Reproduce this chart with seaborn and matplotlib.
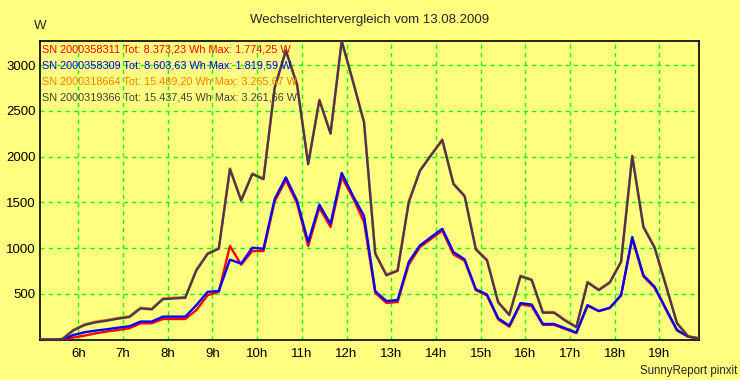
import matplotlib
matplotlib.use("Agg")
import matplotlib.pyplot as plt
import seaborn as sns
import pandas as pd
import numpy as np

# ---------------- data ----------------
times = pd.date_range("2009-08-13 05:08:30", periods=60, freq="15min")

sn_8311 = [0, 0, 0, 22, 43, 68, 87, 104, 123, 177, 177, 224, 224, 224, 322, 485, 521,
           1022, 818, 967, 967, 1510, 1742, 1490, 1022, 1440, 1230, 1774, 1550, 1283,
           510, 400, 410, 820, 1010, 1100, 1190, 930, 860, 540, 480, 220, 140, 385, 365,
           160, 160, 115, 70, 370, 310, 345, 480, 1100, 690, 565, 330, 100, 30, 10]
sn_8309 = [0, 0, 0, 50, 79, 98, 112, 130, 145, 196, 196, 250, 250, 250, 376, 521, 530,
           873, 829, 1003, 992, 1536, 1772, 1518, 1065, 1474, 1264, 1820, 1572, 1350,
           528, 420, 431, 848, 1028, 1120, 1210, 956, 876, 550, 492, 232, 152, 398, 382,
           170, 170, 123, 76, 376, 311, 348, 485, 1120, 702, 576, 340, 104, 33, 12]
sn_8664 = [0, 0, 5, 108, 166, 196, 214, 236, 254, 348, 337, 449, 457, 464, 765, 943, 1000,
           1870, 1526, 1816, 1761, 2758, 3163, 2794, 1924, 2623, 2258, 3266, 2830, 2378,
           946, 710, 758, 1508, 1851, 2022, 2188, 1707, 1573, 993, 873, 413, 275, 699, 658,
           301, 301, 214, 142, 631, 547, 631, 856, 2011, 1236, 1011, 601, 185, 38, 12]
sn_9366 = [0, 0, 5, 100, 159, 188, 206, 228, 246, 340, 329, 441, 449, 456, 757, 935, 992,
           1862, 1518, 1808, 1753, 2750, 3155, 2786, 1916, 2615, 2250, 3262, 2822, 2370,
           938, 702, 750, 1500, 1843, 2014, 2180, 1699, 1565, 985, 865, 405, 267, 691, 650,
           293, 293, 206, 134, 623, 539, 623, 848, 2003, 1228, 1003, 593, 177, 33, 10]

series_names = ["SN 2000358311", "SN 2000358309", "SN 2000318664", "SN 2000319366"]
legend_texts = ["SN 2000358311 Tot: 8.373,23 Wh Max: 1.774,25 W",
                "SN 2000358309 Tot: 8.603,63 Wh Max: 1.819,59 W",
                "SN 2000318664 Tot: 15.489,20 Wh Max: 3.265,67 W",
                "SN 2000319366 Tot: 15.437,45 Wh Max: 3.261,66 W"]
line_colors = ["#FF0000", "#0000FF", "#FF8000", "#4B3553"]
text_colors = ["#FF0000", "#0000FF", "#FF8000", "#404040"]

hour_ticks = list(range(6, 20))
hour_labels = [f"{h}h" for h in hour_ticks]
y_ticks = [500, 1000, 1500, 2000, 2500, 3000]

title = "Wechselrichtervergleich vom 13.08.2009"
unit = "W"
footer = "SunnyReport pinxit"

# ---------------- frame ----------------
hours = times.hour + times.minute / 60 + times.second / 3600
df = pd.concat([
    pd.DataFrame({"hour": hours, "W": vals, "SN": name})
    for name, vals in zip(series_names, [sn_8311, sn_8309, sn_8664, sn_9366])
])

sns.set_theme(style="white")
plt.rcParams["font.family"] = ["Liberation Sans", "DejaVu Sans"]

bg = "#FFFF80"
fig = plt.figure(figsize=(7.4, 3.8), dpi=100, facecolor=bg)
ax = fig.add_axes([40 / 740, 1 - 339.5 / 380, (699.3 - 40) / 740, (339.5 - 40.7) / 380])
ax.set_facecolor(bg)

sns.lineplot(data=df, x="hour", y="W", hue="SN", hue_order=series_names,
             palette=line_colors, linewidth=1.7, legend=False, ax=ax, zorder=3)

ax.set_xlim(hours[0], hours[-1])
ax.set_ylim(0, 3266)
ax.set_xticks(hour_ticks)
ax.set_xticklabels(hour_labels, fontsize=9.5)
ax.set_yticks(y_ticks)
ax.set_yticklabels([str(v) for v in y_ticks], fontsize=9.5)
ax.tick_params(axis="y", length=0, pad=3, colors="black")
ax.tick_params(axis="x", length=0, pad=6, colors="black")
ax.set_xlabel("")
ax.set_ylabel("")

ax.grid(True, color="#00FF00", linestyle=(0, (3, 3)), linewidth=1.0, zorder=1)
ax.set_axisbelow(True)
for sp in ax.spines.values():
    sp.set_color("black")
    sp.set_linewidth(1.2)
    sp.set_visible(True)

for i, (txt, col) in enumerate(zip(legend_texts, text_colors)):
    ax.text(2 / 659.3, 1 - (8.5 + 16.2 * i) / 298.8, txt, transform=ax.transAxes,
            color=col, fontsize=7.8, ha="left", va="center", zorder=5)

fig.text(370 / 740, 1 - 20 / 380, title, ha="center", va="center", fontsize=9.5)
fig.text(40 / 740, 1 - 26 / 380, unit, ha="center", va="center", fontsize=9.5)
fig.text(737 / 740, 1 - 371 / 380, footer, ha="right", va="center", fontsize=8.3)

fig.savefig("out.png", dpi=100, facecolor=bg)
